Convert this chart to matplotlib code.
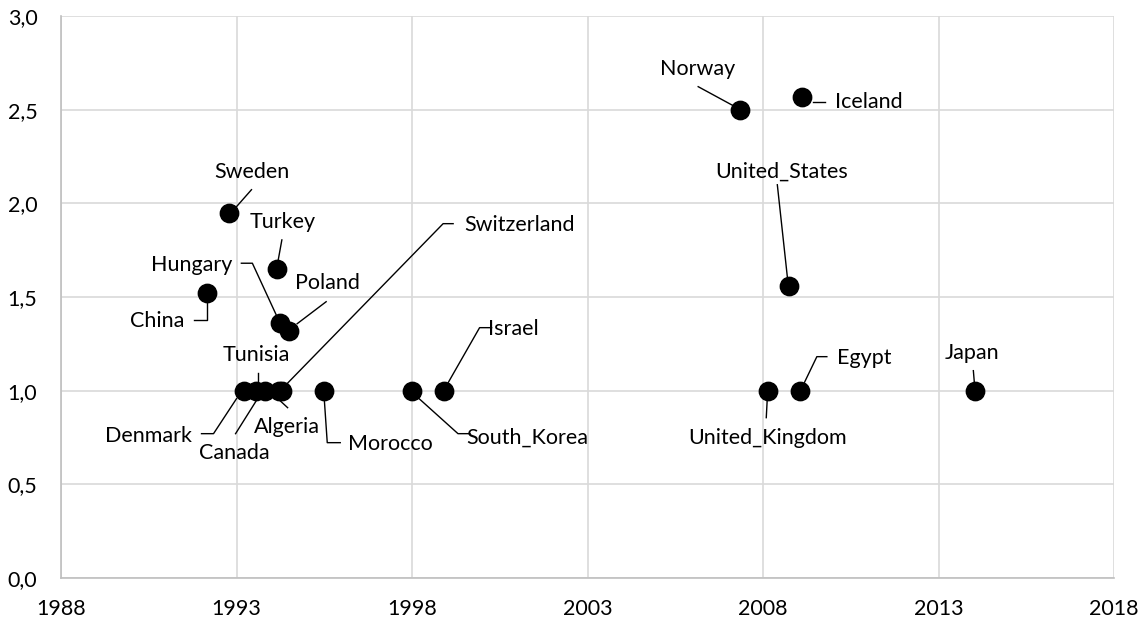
import matplotlib
matplotlib.use("Agg")
import matplotlib.pyplot as plt
from matplotlib.ticker import FuncFormatter, MultipleLocator
from matplotlib.transforms import IdentityTransform

plt.rcParams['font.family'] = ['Lato', 'DejaVu Sans']

countries = ["Sweden", "Turkey", "China", "Hungary", "Poland", "Denmark", "Tunisia",
             "Canada", "Algeria", "Switzerland", "Morocco", "South_Korea", "Israel",
             "Norway", "Iceland", "United_States", "United_Kingdom", "Egypt", "Japan"]
years = [1992.8, 1994.15, 1992.15, 1994.25, 1994.5, 1993.2, 1993.55,
         1993.8, 1994.2, 1994.3, 1995.5, 1998.0, 1998.9,
         2007.35, 2009.1, 2008.75, 2008.15, 2009.05, 2014.05]
values = [1.95, 1.65, 1.52, 1.36, 1.32, 1.0, 1.0,
          1.0, 1.0, 1.0, 1.0, 1.0, 1.0,
          2.5, 2.57, 1.56, 1.0, 1.0, 1.0]
x_ticks = [1988, 1993, 1998, 2003, 2008, 2013, 2018]

# label layout: text centre offset (px, image y down) and leader waypoints
label_offsets = {
    "Sweden": ((22, -41), [(22, -23), (7, -6)]),
    "Turkey": ((6, -47), [(5, -29), (1, -7)]),
    "China": ((-49, 28), [(-13, 27), (0, 27), (0, 8)]),
    "Hungary": ((-89, -58), [(-39, -60), (-28, -60), (-4, -8)]),
    "Poland": ((38, -48), [(37, -29), (8, -7)]),
    "Denmark": ((-95, 45), [(-42, 43), (-30, 43), (-7, 8)]),
    "Tunisia": ((1, -36), [(2, -18), (2, -7)]),
    "Canada": ((-30, 62), [(-29, 43), (-7, 8)]),
    "Algeria": ((8, 36), [(9, 17), (-4, 5)]),
    "Switzerland": ((237, -166), [(171, -167), (161, -167), (3, -5)]),
    "Morocco": ((66, 53), [(0, 8), (3, 52), (16, 52)]),
    "South_Korea": ((115, 47), [(6, 7), (46, 43), (58, 43)]),
    "Israel": ((70, -62), [(48, -63), (36, -63), (4, -7)]),
    "Norway": ((-43, -41), [(-42, -23), (-7, -4)]),
    "Iceland": ((67, 5), [(11, 5), (23, 5)]),
    "United_States": ((-8, -114), [(-12, -101), (-2, -9)]),
    "United_Kingdom": ((-1, 47), [(-1, 8), (-2, 27)]),
    "Egypt": ((64, -33), [(27, -34), (17, -34), (4, -7)]),
    "Japan": ((-3, -38), [(-2, -20), (-1, -8)]),
}

fs = 15.5
fig = plt.figure(figsize=(11.47, 6.25), dpi=100)
ax = fig.add_axes([61/1147, 47/625, (1114-61)/1147, (578-16)/625])
ax.set_xlim(1988, 2018)
ax.set_ylim(0, 3.0)
ax.set_xticks(x_ticks)
ax.yaxis.set_major_locator(MultipleLocator(0.5))
ax.yaxis.set_major_formatter(FuncFormatter(lambda v, p: f"{v:.1f}".replace(".", ",")))
ax.xaxis.set_major_formatter(FuncFormatter(lambda v, p: f"{int(round(v))}"))
ax.grid(True, color="#d9d9d9", linewidth=1.2)
ax.set_axisbelow(True)
for s in ["top", "right"]:
    ax.spines[s].set_visible(False)
for s in ["left", "bottom"]:
    ax.spines[s].set_color("#bfbfbf")
    ax.spines[s].set_linewidth(1.2)
ax.tick_params(axis="both", length=0, labelsize=fs, colors="#000000")
ax.tick_params(axis="x", pad=15)
ax.tick_params(axis="y", pad=17)

ax.scatter(years, values, s=175, color="black", zorder=3)

for name, x, y in zip(countries, years, values):
    (tdx, tdy), pts = label_offsets[name]
    ax.annotate(name, xy=(x, y), xytext=(tdx, -tdy), textcoords="offset pixels",
                ha="center", va="center", fontsize=fs, zorder=4)
    px, py = ax.transData.transform((x, y))
    xs = [px + dx for dx, dy in pts]
    ys = [py - dy for dx, dy in pts]
    ax.plot(xs, ys, color="black", linewidth=1.0, transform=IdentityTransform(), zorder=2)

fig.savefig("out.png", dpi=100)
